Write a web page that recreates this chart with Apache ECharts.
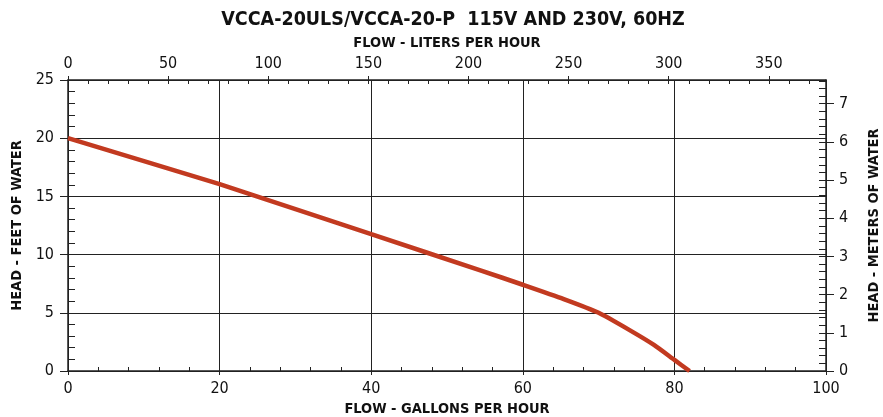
<!DOCTYPE html>
<html>
<head>
<meta charset="utf-8">
<script src="https://cdn.jsdelivr.net/npm/echarts@6/dist/echarts.min.js"></script>
<style>html,body{margin:0;padding:0;background:#fff}#c{width:883px;height:417px}</style>
</head>
<body>
<div id="c"></div>
<script>
const titleText = 'VCCA-20ULS/VCCA-20-P  115V AND 230V, 60HZ';
const flowGph = [0, 20, 40, 54.4, 60, 65.4, 70, 74.2, 77.3, 80, 82];
const headFt  = [20, 16.05, 11.75, 8.65, 7.41, 6.18, 5.0, 3.47, 2.24, 0.95, 0];
const gphMax = 100, ftMax = 25;
const lphMax = gphMax * 3.78541;
const mMax = ftMax * 0.3048;

const FONT = '"Liberation Sans Narrow", "DejaVu Sans Condensed", sans-serif';
const AX = '#222';
const lbl = {fontFamily: FONT, fontSize: 16, color: '#111'};
const nm = {fontFamily: FONT, fontSize: 14.5, fontWeight: 'bold', color: '#111'};

const chart = echarts.init(document.getElementById('c'), null, {renderer: 'canvas'});
const data = flowGph.map((x, i) => [x, headFt[i]]);

const ghostX = (pos, max, interval, len) => ({
  type: 'value', position: pos, min: 0, max: max, interval: interval,
  axisLine: {show: false, onZero: false}, axisLabel: {show: false}, splitLine: {show: false},
  axisTick: {show: true, inside: true, length: len, lineStyle: {color: AX, width: 1}}
});

chart.setOption({
  animation: false,
  title: {
    text: titleText, left: 448, top: 5, textAlign: 'center',
    textStyle: {fontFamily: FONT, fontSize: 19.5, fontWeight: 'bold', color: '#111'}
  },
  grid: {left: 68, right: 57, top: 80, bottom: 46, containLabel: false, outerBoundsMode: 'none'},
  xAxis: [
    {
      type: 'value', position: 'bottom', min: 0, max: gphMax, interval: 20,
      name: 'FLOW - GALLONS PER HOUR', nameLocation: 'middle', nameGap: 26, nameTextStyle: nm,
      axisLine: {onZero: false, lineStyle: {color: AX, width: 1.5}},
      axisTick: {length: 4, lineStyle: {color: AX}},
      axisLabel: Object.assign({margin: 10}, lbl),
      splitLine: {show: true, lineStyle: {color: AX, width: 1}}
    },
    {
      type: 'value', position: 'top', min: 0, max: lphMax, interval: 50,
      name: 'FLOW - LITERS PER HOUR', nameLocation: 'middle', nameGap: 27, nameTextStyle: nm,
      axisLine: {onZero: false, lineStyle: {color: AX, width: 1.5}},
      axisTick: {length: 4, lineStyle: {color: AX}},
      axisLabel: Object.assign({margin: 8, showMaxLabel: false}, lbl),
      splitLine: {show: false}
    },
    ghostX('bottom', gphMax, 4, 4),
    ghostX('top', lphMax, 10, 4)
  ],
  yAxis: [
    {
      type: 'value', position: 'left', min: 0, max: ftMax, interval: 5,
      name: 'HEAD - FEET OF WATER', nameLocation: 'middle', nameGap: 43, nameTextStyle: nm,
      axisLine: {show: true, onZero: false, lineStyle: {color: AX, width: 1.5}},
      axisTick: {show: true, length: 8, lineStyle: {color: AX}},
      axisLabel: Object.assign({margin: 14}, lbl),
      splitLine: {show: true, lineStyle: {color: AX, width: 1}}
    },
    {
      type: 'value', position: 'right', min: 0, max: mMax, interval: 1,
      name: 'HEAD - METERS OF WATER', nameLocation: 'middle', nameGap: 41, nameRotate: 90,
      nameTextStyle: nm,
      axisLine: {show: true, onZero: false, lineStyle: {color: AX, width: 1.5}},
      axisTick: {show: true, length: 8, lineStyle: {color: AX}},
      axisLabel: Object.assign({margin: 13, showMaxLabel: false}, lbl),
      splitLine: {show: false}
    },
    {
      type: 'value', position: 'left', min: 0, max: ftMax, interval: 1,
      axisLine: {show: false, onZero: false}, axisLabel: {show: false}, splitLine: {show: false},
      axisTick: {show: true, inside: true, length: 7, lineStyle: {color: AX}}
    },
    {
      type: 'value', position: 'right', min: 0, max: mMax, interval: 0.2,
      axisLine: {show: false, onZero: false}, axisLabel: {show: false}, splitLine: {show: false},
      axisTick: {show: true, inside: true, length: 7, lineStyle: {color: AX}}
    }
  ],
  series: [{
    type: 'line', xAxisIndex: 0, yAxisIndex: 0, data: data,
    smooth: 0.2, showSymbol: false, symbol: 'none',
    lineStyle: {color: '#c23a20', width: 4.5}
  }]
});
</script>
</body>
</html>
